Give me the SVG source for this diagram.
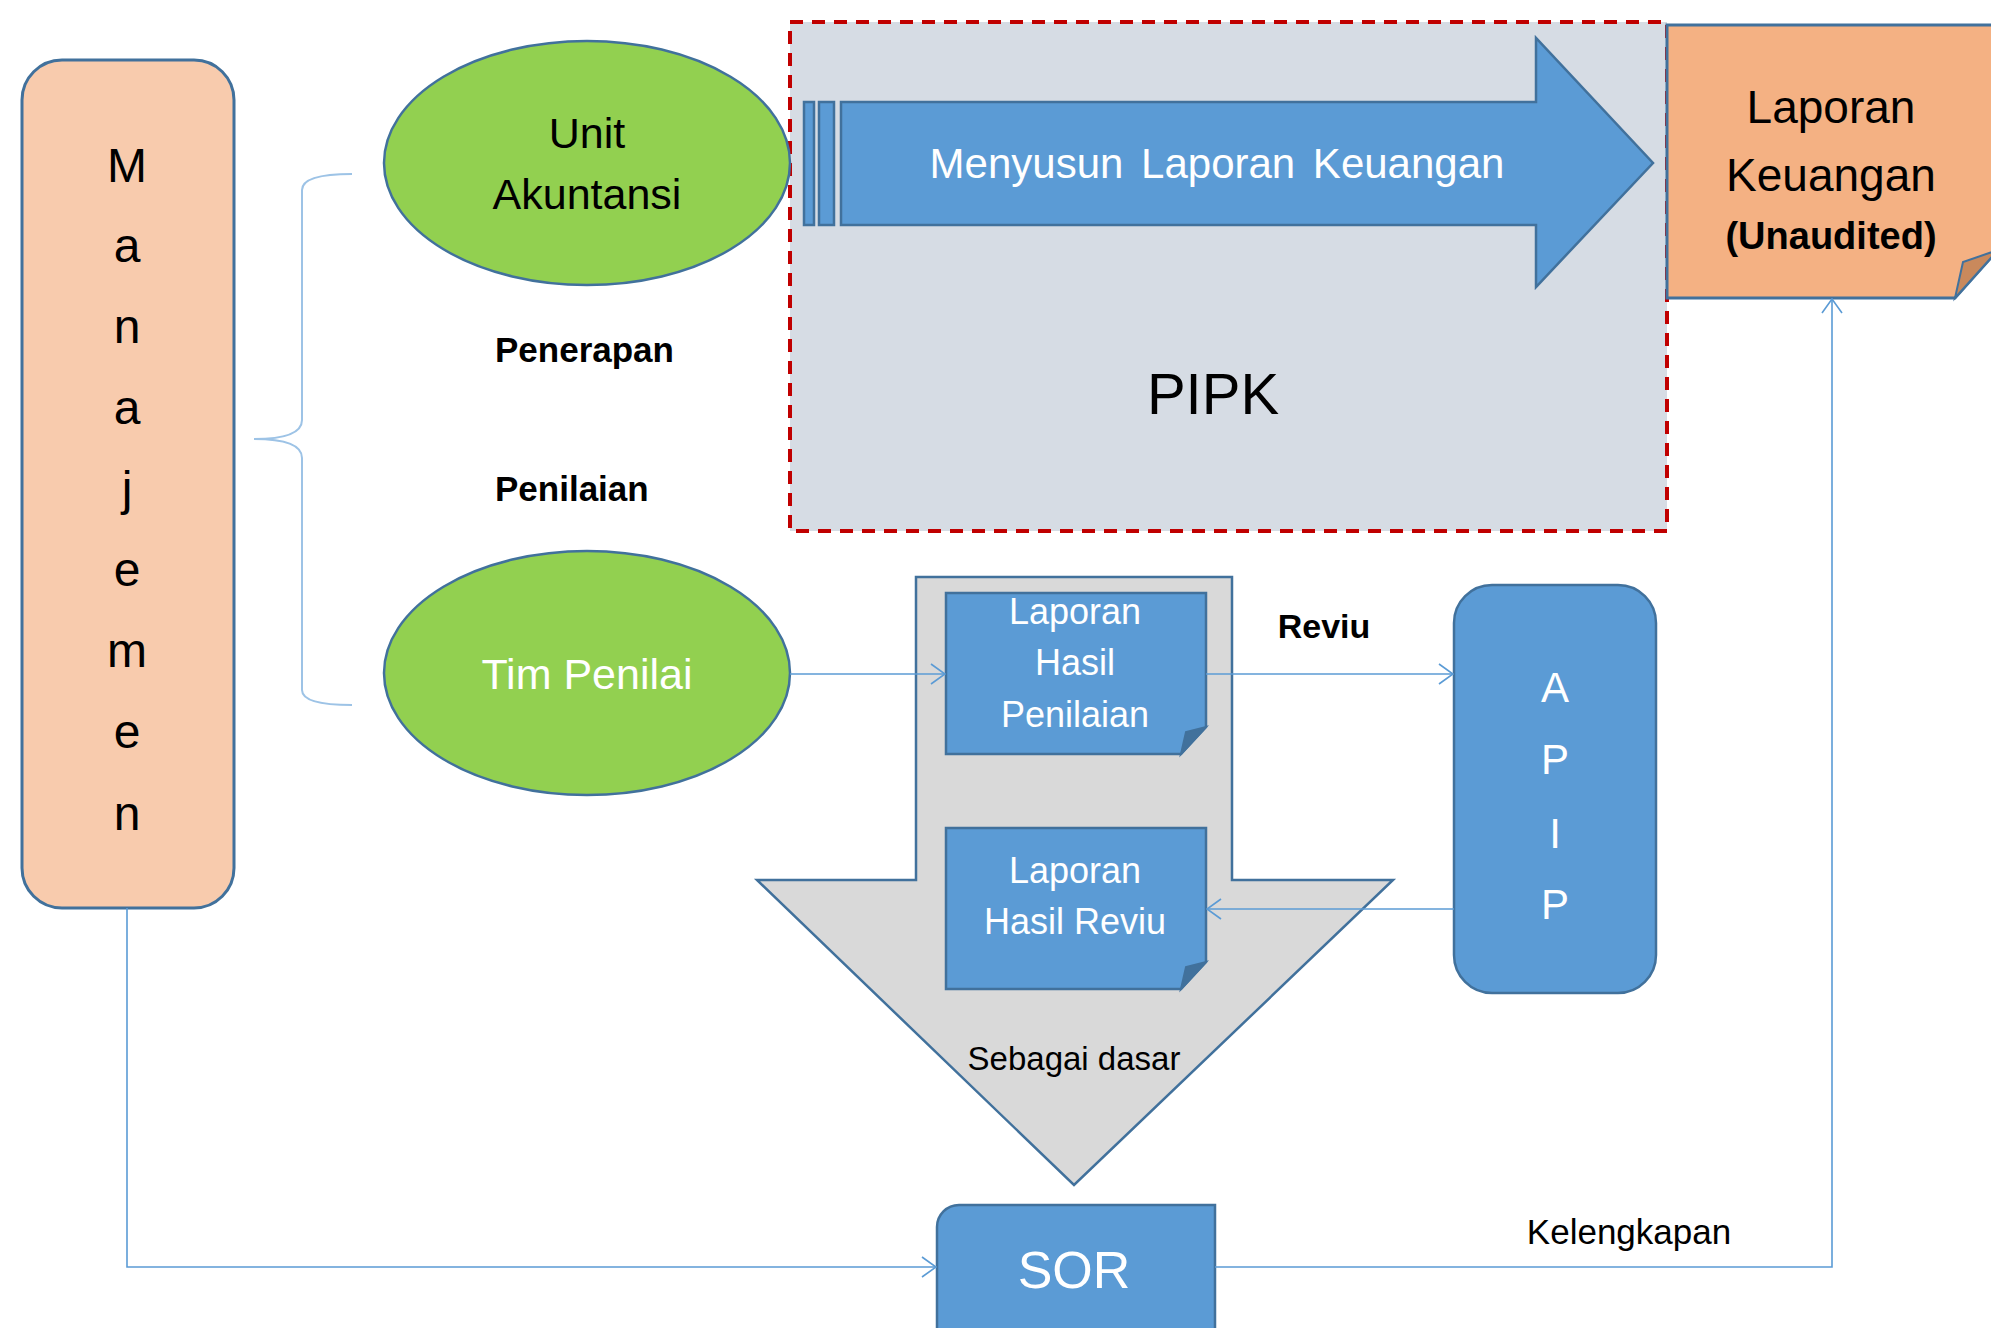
<svg xmlns="http://www.w3.org/2000/svg" width="1991" height="1328" viewBox="0 0 1991 1328">
<style>
text{font-family:"Liberation Sans",Arial,sans-serif;text-anchor:middle}
.blk{fill:#000}
.wht{fill:#fff}
.bold{font-weight:bold}
.conn{fill:none;stroke:#5B9BD5;stroke-width:1.6}
.blue{fill:#5B9BD5;stroke:#41719C;stroke-width:2.5}
.green{fill:#92D050;stroke:#41719C;stroke-width:2.5}
</style>
<defs>
<marker id="arr" viewBox="0 0 16 22" refX="15" refY="11" markerWidth="16" markerHeight="22" markerUnits="userSpaceOnUse" orient="auto">
<path d="M1,1 L15,11 L1,21" fill="none" stroke="#5B9BD5" stroke-width="1.6"/>
</marker>
</defs>
<rect width="1991" height="1328" fill="#fff"/>

<g id="pipk">
<rect x="790" y="22" width="877" height="509" fill="#D6DCE4" stroke="#C00000" stroke-width="4" stroke-dasharray="13,9"/>
<text x="1213" y="414" class="blk" font-size="58">PIPK</text>
</g>

<g id="menyusun">
<rect x="804" y="102" width="10" height="123" class="blue" stroke-width="2"/>
<rect x="819" y="102" width="15" height="123" class="blue" stroke-width="2"/>
<path d="M841,102 H1536 V38 L1653,163 L1536,287 V225 H841 Z" class="blue"/>
<text x="1217" y="178" class="wht" font-size="42" word-spacing="6">Menyusun Laporan Keuangan</text>
</g>

<g id="laporan-keuangan">
<path d="M1667,25 H1998 V250 L1955,298 H1667 Z" fill="#F4B183" stroke="#41719C" stroke-width="3"/>
<path d="M1955,298 L1963,262 L1998,250 Z" fill="#C9895C" stroke="#41719C" stroke-width="2"/>
<text x="1831" y="123" class="blk" font-size="46">Laporan</text>
<text x="1831" y="191" class="blk" font-size="46">Keuangan</text>
<text x="1831" y="249" class="blk bold" font-size="38">(Unaudited)</text>
</g>

<g id="manajemen">
<rect x="22" y="60" width="212" height="848" rx="40" ry="40" fill="#F8CBAD" stroke="#41719C" stroke-width="3"/>
<text class="blk" font-size="48" x="127" y="182">M</text>
<text class="blk" font-size="48" x="127" y="262">a</text>
<text class="blk" font-size="48" x="127" y="343">n</text>
<text class="blk" font-size="48" x="127" y="424">a</text>
<text class="blk" font-size="48" x="127" y="505">j</text>
<text class="blk" font-size="48" x="127" y="586">e</text>
<text class="blk" font-size="48" x="127" y="667">m</text>
<text class="blk" font-size="48" x="127" y="748">e</text>
<text class="blk" font-size="48" x="127" y="830">n</text>
</g>

<g id="brace">
<path d="M352,174 Q302,174 302,190 V420 Q302,439 254,439 Q302,439 302,458 V690 Q302,705 352,705" fill="none" stroke="#9DC3E6" stroke-width="2"/>
</g>

<g id="unit-akuntansi">
<ellipse cx="587" cy="163" rx="203" ry="122" class="green"/>
<text x="587" y="148" class="blk" font-size="43">Unit</text>
<text x="587" y="209" class="blk" font-size="43">Akuntansi</text>
</g>

<g id="labels">
<text x="495" y="362" class="blk bold" font-size="35" style="text-anchor:start">Penerapan</text>
<text x="495" y="501" class="blk bold" font-size="35" style="text-anchor:start">Penilaian</text>
<text x="1324" y="638" class="blk bold" font-size="34">Reviu</text>
<text x="1629" y="1244" class="blk" font-size="35">Kelengkapan</text>
</g>

<g id="tim-penilai">
<ellipse cx="587" cy="673" rx="203" ry="122" class="green"/>
<text x="587" y="689" class="wht" font-size="43">Tim Penilai</text>
</g>

<g id="sebagai-dasar">
<path d="M916,577 H1232 V880 H1393 L1074,1185 L757,880 H916 Z" fill="#D9D9D9" stroke="#41719C" stroke-width="2.5"/>
<text x="1074" y="1070" class="blk" font-size="33">Sebagai dasar</text>
</g>

<g id="lhp">
<path d="M946,593 H1206 V727 L1181,754 H946 Z" class="blue"/>
<path d="M1181,754 L1186,732 L1206,727 Z" fill="#41719C" stroke="#41719C" stroke-width="2"/>
<text x="1075" y="624" class="wht" font-size="36">Laporan</text>
<text x="1075" y="675" class="wht" font-size="36">Hasil</text>
<text x="1075" y="727" class="wht" font-size="36">Penilaian</text>
</g>

<g id="lhr">
<path d="M946,828 H1206 V962 L1181,989 H946 Z" class="blue"/>
<path d="M1181,989 L1186,967 L1206,962 Z" fill="#41719C" stroke="#41719C" stroke-width="2"/>
<text x="1075" y="883" class="wht" font-size="36">Laporan</text>
<text x="1075" y="934" class="wht" font-size="36">Hasil Reviu</text>
</g>

<g id="apip">
<rect x="1454" y="585" width="202" height="408" rx="38" ry="38" class="blue"/>
<text class="wht" font-size="42" x="1555" y="702">A</text>
<text class="wht" font-size="42" x="1555" y="774">P</text>
<text class="wht" font-size="42" x="1555" y="848">I</text>
<text class="wht" font-size="42" x="1555" y="919">P</text>
</g>

<g id="sor">
<path d="M937,1340 V1227 A22,22 0 0 1 959,1205 H1215 V1340 Z" class="blue"/>
<text x="1074" y="1288" class="wht" font-size="52">SOR</text>
</g>

<g id="connectors">
<path d="M790,674 H945" class="conn" marker-end="url(#arr)"/>
<path d="M1206,674 H1453" class="conn" marker-end="url(#arr)"/>
<path d="M1454,909 H1207" class="conn" marker-end="url(#arr)"/>
<path d="M127,908 V1267 H936" class="conn" marker-end="url(#arr)"/>
<path d="M1215,1267 H1832 V299" class="conn" marker-end="url(#arr)"/>
</g>
</svg>
